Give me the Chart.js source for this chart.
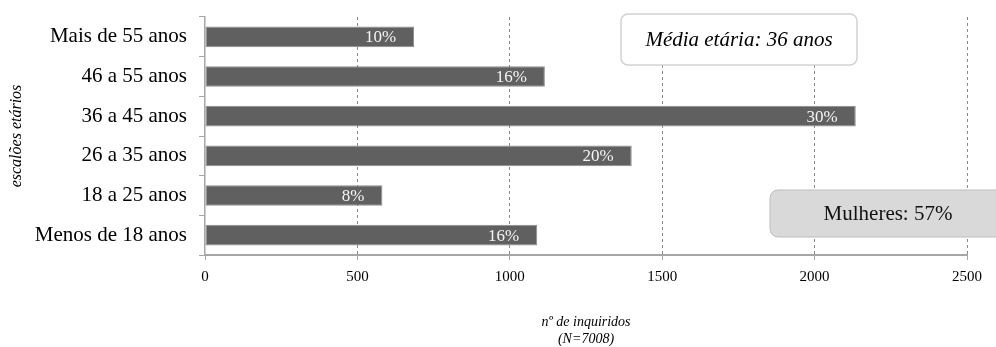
<!DOCTYPE html>
<html>
<head>
<meta charset="utf-8">
<script src="https://cdn.jsdelivr.net/npm/chart.js@4.4.1/dist/chart.umd.min.js"></script>
<style>
  html, body { margin: 0; padding: 0; background: #ffffff; }
  #wrap { width: 996px; height: 347px; }
</style>
</head>
<body>
<div id="wrap"><canvas id="chart" width="996" height="347"></canvas></div>
<script>
// Age groups, top to bottom, and number of respondents in each
const categories = ['Mais de 55 anos', '46 a 55 anos', '36 a 45 anos', '26 a 35 anos', '18 a 25 anos', 'Menos de 18 anos'];
const respondents = [686, 1115, 2135, 1400, 582, 1090];
const xTicks = [0, 500, 1000, 1500, 2000, 2500];
const totalN = 7008;
const averageAgeNote = 'Média etária: 36 anos';
const womenNote = 'Mulheres: 57%';

const SERIF = '"Liberation Serif", "Times New Roman", serif';

// Share of each group written inside the end of its bar
const barShareLabels = {
  id: 'barShareLabels',
  afterDatasetsDraw(chart) {
    const ctx = chart.ctx;
    const meta = chart.getDatasetMeta(0);
    ctx.save();
    ctx.font = '17px ' + SERIF;
    ctx.fillStyle = '#f4f4f4';
    ctx.textAlign = 'right';
    ctx.textBaseline = 'middle';
    meta.data.forEach((bar, i) => {
      const pct = Math.round(respondents[i] / totalN * 100) + '%';
      ctx.fillText(pct, bar.x - 18, bar.y + 1);
    });
    ctx.restore();
  }
};

function roundBox(ctx, x, y, w, h, r, fill, stroke, lw) {
  ctx.beginPath();
  ctx.roundRect(x, y, w, h, r);
  ctx.fillStyle = fill;
  ctx.fill();
  ctx.lineWidth = lw;
  ctx.strokeStyle = stroke;
  ctx.stroke();
}

// Two call-out boxes with summary facts
const summaryBoxes = {
  id: 'summaryBoxes',
  afterDraw(chart) {
    const ctx = chart.ctx;
    const a = chart.chartArea;
    ctx.save();
    // average age
    roundBox(ctx, a.left + 416, a.top - 3, 236, 51, 7, '#ffffff', '#d2d2d2', 1.5);
    ctx.fillStyle = '#000000';
    ctx.font = 'italic 21px ' + SERIF;
    ctx.textAlign = 'center';
    ctx.textBaseline = 'middle';
    ctx.fillText(averageAgeNote, a.left + 534, a.top + 23.5);
    // share of women
    roundBox(ctx, a.left + 565, a.top + 173, 236, 47, 8, '#d9d9d9', '#bdbdbd', 1);
    ctx.fillStyle = '#111111';
    ctx.font = '21px ' + SERIF;
    ctx.fillText(womenNote, a.left + 683, a.top + 197);
    ctx.restore();
  }
};

new Chart(document.getElementById('chart'), {
  type: 'bar',
  data: {
    labels: categories,
    datasets: [{
      data: respondents,
      backgroundColor: '#606060',
      borderColor: '#8c8c8c',
      borderWidth: 1,
      borderSkipped: false,
      barPercentage: 0.52,
      categoryPercentage: 1
    }]
  },
  options: {
    indexAxis: 'y',
    responsive: false,
    animation: false,
    devicePixelRatio: 1,
    layout: { padding: { left: 0, top: 17, right: 29, bottom: 0 } },
    plugins: {
      legend: { display: false },
      tooltip: { enabled: false }
    },
    scales: {
      x: {
        min: 0,
        max: 2500,
        afterBuildTicks: s => { s.ticks = xTicks.map(v => ({ value: v })); },
        afterFit: s => { s.height = 92; },
        grid: {
          color: c => (c.tick && c.tick.value === 0) ? 'rgba(0,0,0,0)' : '#8a8a8a',
          lineWidth: 1,
          tickLength: 5,
          tickColor: '#a6a6a6',
          tickWidth: 1
        },
        border: { display: true, color: '#a6a6a6', width: 2, dash: [3, 3] },
        ticks: {
          color: '#000000',
          font: { family: SERIF, size: 15 },
          padding: 8,
          maxRotation: 0,
          callback: v => String(v)
        },
        title: {
          display: true,
          text: ['nº de inquiridos', '(N=7008)'],
          color: '#000000',
          font: { family: SERIF, size: 14, style: 'italic', lineHeight: '17px' },
          padding: { top: 0, bottom: -1 }
        }
      },
      y: {
        afterFit: s => { s.width = 205; s.paddingTop = 0; s.paddingBottom = 0; },
        grid: {
          offset: true,
          drawOnChartArea: false,
          drawTicks: true,
          tickLength: 6,
          tickColor: '#a6a6a6',
          color: '#a6a6a6'
        },
        border: { display: true, color: '#a6a6a6', width: 1.5 },
        ticks: {
          color: '#000000',
          font: { family: SERIF, size: 21 },
          padding: 12
        },
        title: {
          display: true,
          text: 'escalões etários',
          color: '#000000',
          font: { family: SERIF, size: 16, style: 'italic', lineHeight: '18px' },
          padding: { top: 8, bottom: 0 }
        }
      }
    }
  },
  plugins: [barShareLabels, summaryBoxes]
});
</script>
</body>
</html>
